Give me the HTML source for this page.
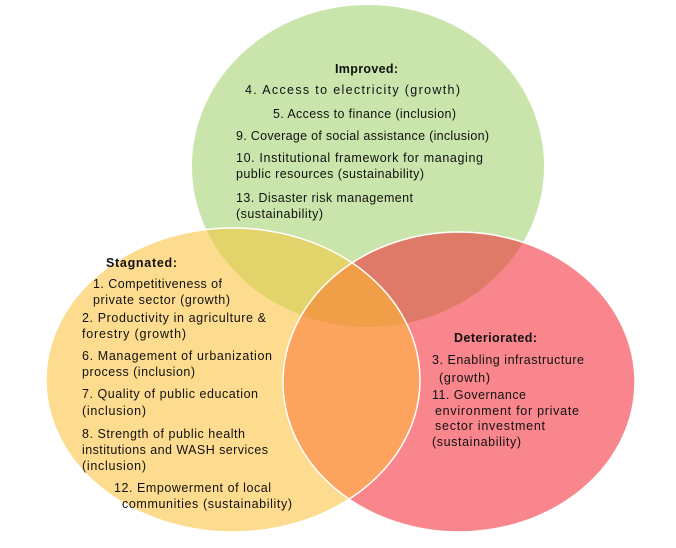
<!DOCTYPE html>
<html><head><style>html,body{margin:0;padding:0;background:#fff}svg{display:block}text{font-family:"Liberation Sans",sans-serif;font-size:12.5px;fill:#111}</style></head><body>
<svg width="676" height="548" viewBox="0 0 676 548">
<defs>
<clipPath id="cg"><ellipse cx="368" cy="166" rx="176" ry="161"/></clipPath>
<clipPath id="cy"><ellipse cx="233" cy="380" rx="187" ry="152"/></clipPath>
<clipPath id="cr"><ellipse cx="459" cy="382" rx="176" ry="150"/></clipPath>
</defs>
<ellipse cx="368" cy="166" rx="176" ry="161" fill="#c9e5ab"/>
<ellipse cx="233" cy="380" rx="187" ry="152" fill="#fddc90"/>
<ellipse cx="368" cy="166" rx="176" ry="161" fill="#e2d36a" clip-path="url(#cy)"/>
<ellipse cx="459" cy="382" rx="176" ry="150" fill="#f8868c"/>
<ellipse cx="368" cy="166" rx="176" ry="161" fill="#e07a68" clip-path="url(#cr)"/>
<g clip-path="url(#cr)"><ellipse cx="233" cy="380" rx="187" ry="152" fill="#fca45e"/>
<ellipse cx="368" cy="166" rx="176" ry="161" fill="#f09e48" clip-path="url(#cy)"/></g>
<ellipse cx="233" cy="380" rx="187" ry="152" fill="none" stroke="#fff" stroke-width="1.5"/>
<ellipse cx="459" cy="382" rx="176" ry="150" fill="none" stroke="#fff" stroke-width="1.5"/>
<text x="335" y="73" font-weight="bold" textLength="63">Improved:</text>
<text x="245" y="94" textLength="215">4. Access to electricity (growth)</text>
<text x="273" y="118" textLength="183">5. Access to finance (inclusion)</text>
<text x="236" y="140" textLength="253">9. Coverage of social assistance (inclusion)</text>
<text x="236" y="162" textLength="247">10. Institutional framework for managing</text>
<text x="236" y="178" textLength="188">public resources (sustainability)</text>
<text x="236" y="202" textLength="177">13. Disaster risk management</text>
<text x="236" y="218" textLength="87">(sustainability)</text>
<text x="106" y="267" font-weight="bold" textLength="71">Stagnated:</text>
<text x="93" y="288" textLength="129">1. Competitiveness of</text>
<text x="93" y="304" textLength="137">private sector (growth)</text>
<text x="82" y="322" textLength="184">2. Productivity in agriculture &amp;</text>
<text x="82" y="338" textLength="104">forestry (growth)</text>
<text x="82" y="360" textLength="190">6. Management of urbanization</text>
<text x="82" y="376" textLength="113">process (inclusion)</text>
<text x="82" y="398" textLength="176">7. Quality of public education</text>
<text x="82" y="415" textLength="64">(inclusion)</text>
<text x="82" y="438" textLength="163">8. Strength of public health</text>
<text x="82" y="454" textLength="186">institutions and WASH services</text>
<text x="82" y="470" textLength="64">(inclusion)</text>
<text x="114" y="492" textLength="157">12. Empowerment of local</text>
<text x="122" y="508" textLength="170">communities (sustainability)</text>
<text x="454" y="342" font-weight="bold" textLength="83">Deteriorated:</text>
<text x="432" y="364" textLength="152">3. Enabling infrastructure</text>
<text x="439" y="382" textLength="51">(growth)</text>
<text x="432" y="399" textLength="94">11. Governance</text>
<text x="435" y="415" textLength="144">environment for private</text>
<text x="435" y="430" textLength="110">sector investment</text>
<text x="432" y="446" textLength="89">(sustainability)</text>
</svg>
</body></html>
